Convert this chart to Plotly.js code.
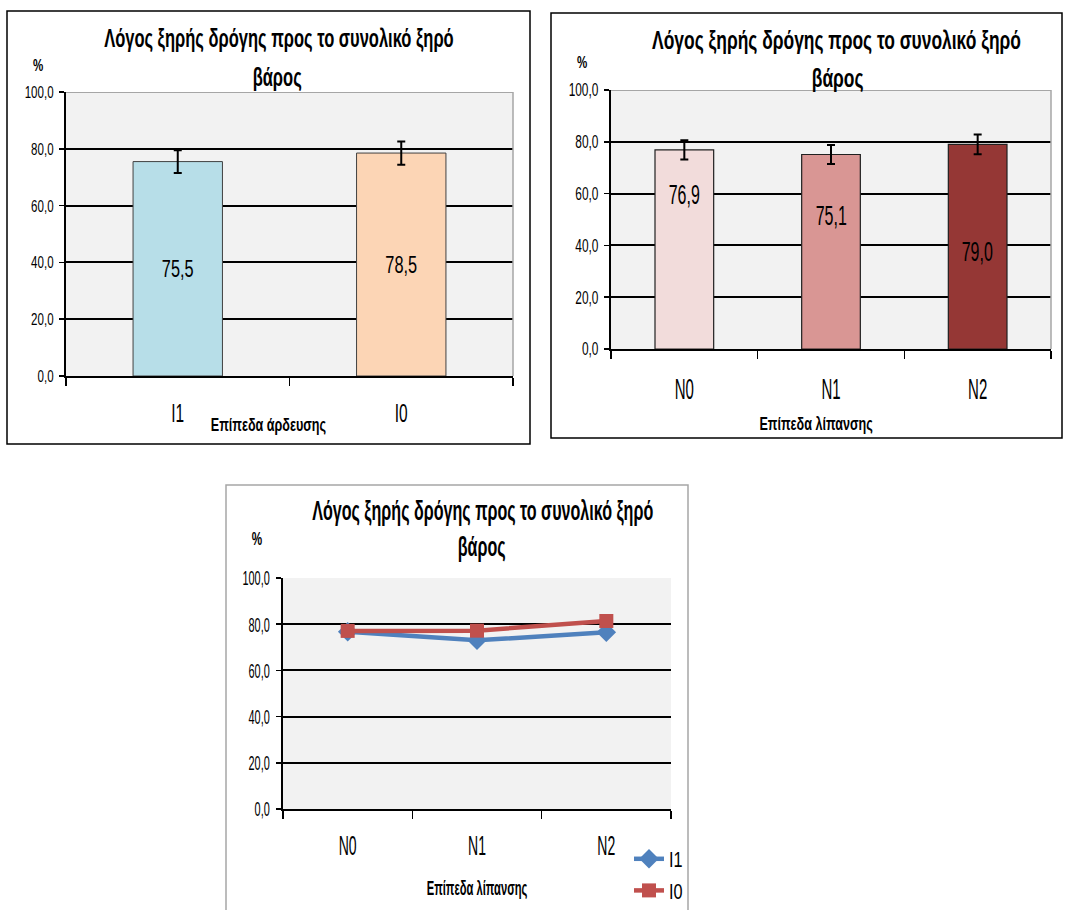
<!DOCTYPE html>
<html>
<head>
<meta charset="utf-8">
<script src="https://cdn.plot.ly/plotly-3.0.1.min.js"></script>
<style>html,body{margin:0;padding:0;background:#fff;}#chart{width:1067px;height:910px;}</style>
</head>
<body>
<div id="chart"></div>
<script>
// ---- data ----
const irrCats = ['I1', 'I0'];
const irrMeans = [75.5, 78.5];
const irrErr = [4.0, 4.1];

const fertCats = ['N0', 'N1', 'N2'];
const fertMeans = [76.9, 75.1, 79.0];
const fertErr = [3.7, 3.7, 3.8];

const lineCats = ['N0', 'N1', 'N2'];
const lineI1 = [76.7, 73.0, 76.5];
const lineI0 = [77.1, 77.2, 81.4];

const titleLine1 = 'Λόγος ξηρής δρόγης προς το συνολικό ξηρό';
const titleLine2 = 'βάρος';
const irrAxisTitle = 'Επίπεδα άρδευσης';
const fertAxisTitle = 'Επίπεδα λίπανσης';
const seriesNames = ['I1', 'I0'];

// ---- styling ----
const W = 1067, H = 910;
const px = x => x / W;
const py = y => 1 - y / H;
const FONT = "'Liberation Sans', Arial, sans-serif";
const fmt = v => v.toFixed(1).replace('.', ',');

const irrColors = ['#b7dee8', '#fcd5b5'];
const fertColors = ['#f2dcdb', '#d99694', '#953735'];
const fertLabelY = [59.5, 51.7, 37.5];

const traces = [
  {
    type: 'bar', x: irrCats, y: irrMeans, xaxis: 'x', yaxis: 'y', width: 0.4,
    marker: {color: irrColors, line: {color: '#404040', width: 1}},
    error_y: {type: 'data', array: irrErr, visible: true, color: '#000', thickness: 2, width: 4},
    text: irrMeans.map(fmt), textposition: 'inside', insidetextanchor: 'middle', textangle: 0,
    textfont: {family: FONT, size: 24, color: '#000'},
    showlegend: false, hoverinfo: 'none'
  },
  {
    type: 'bar', x: fertCats, y: fertMeans, xaxis: 'x2', yaxis: 'y2', width: 0.4,
    marker: {color: fertColors, line: {color: '#202020', width: 1.2}},
    error_y: {type: 'data', array: fertErr, visible: true, color: '#000', thickness: 2, width: 4},
    showlegend: false, hoverinfo: 'none'
  },
  {
    type: 'scatter', mode: 'lines+markers', name: seriesNames[0], x: lineCats, y: lineI1,
    xaxis: 'x3', yaxis: 'y3', legendgroup: 'a',
    line: {color: '#4f81bd', width: 4.5}, marker: {symbol: 'diamond', size: 15, color: '#4f81bd'},
    hoverinfo: 'none'
  },
  {
    type: 'scatter', mode: 'lines+markers', name: seriesNames[1], x: lineCats, y: lineI0,
    xaxis: 'x3', yaxis: 'y3', legendgroup: 'b',
    line: {color: '#c0504d', width: 4.5}, marker: {symbol: 'square', size: 14, color: '#c0504d'},
    hoverinfo: 'none'
  }
];

function yAx(dom, anchor, fs) {
  return {
    domain: dom, anchor: anchor, range: [0, 100], dtick: 20, tick0: 0, tickformat: '.1f',
    ticks: 'outside', ticklen: 5, tickcolor: '#000', tickwidth: 1.5,
    showline: true, linecolor: '#000', linewidth: 2,
    showgrid: true, gridcolor: '#000', gridwidth: 2, zeroline: false,
    tickfont: {family: FONT, size: fs, color: '#000'}, ticklabelstandoff: 2, fixedrange: true
  };
}
function xAx(dom, anchor, n, fs, standoff) {
  return {
    domain: dom, anchor: anchor, type: 'category', range: [-0.5, n - 0.5],
    tickson: 'boundaries', ticks: 'outside', ticklen: 8, tickcolor: '#000', tickwidth: 1.5,
    showline: true, linecolor: '#000', linewidth: 2, showgrid: false, zeroline: false,
    tickfont: {family: FONT, size: fs, color: '#000'}, ticklabelstandoff: standoff, fixedrange: true
  };
}

const shapes = [
  {type: 'rect', xref: 'paper', yref: 'paper', x0: px(7), x1: px(530), y0: py(444), y1: py(11), line: {color: '#000', width: 1.5}},
  {type: 'rect', xref: 'paper', yref: 'paper', x0: px(551), x1: px(1062), y0: py(438), y1: py(13), line: {color: '#000', width: 1.5}},
  {type: 'rect', xref: 'paper', yref: 'paper', x0: px(226), x1: px(688), y0: py(920), y1: py(485), line: {color: '#a6a6a6', width: 1.5}},
  {type: 'line', xref: 'x domain', yref: 'y', x0: 0, x1: 1, y0: 100, y1: 100, line: {color: '#a6a6a6', width: 2}},
  {type: 'line', xref: 'x domain', yref: 'y', x0: 1, x1: 1, y0: 0, y1: 100, line: {color: '#a6a6a6', width: 1.5}},
  {type: 'line', xref: 'x2 domain', yref: 'y2', x0: 0, x1: 1, y0: 100, y1: 100, line: {color: '#a6a6a6', width: 2}},
  {type: 'line', xref: 'x2 domain', yref: 'y2', x0: 1, x1: 1, y0: 0, y1: 100, line: {color: '#a6a6a6', width: 1.5}}
];

const annotations = [];
const annSx = [];
function ann(text, x, y, size, bold, sx) {
  annotations.push({xref: 'paper', yref: 'paper', x: px(x), y: py(y), xanchor: 'center', yanchor: 'middle',
    text: bold ? '<b>' + text + '</b>' : text, showarrow: false,
    font: {family: FONT, size: size, color: '#000'}});
  annSx.push(sx);
}

ann(titleLine1, 279, 39, 25, true, 0.66);
ann(titleLine2, 277, 77, 25, true, 0.66);
ann('%', 38, 66, 16, true, 0.72);
ann(irrAxisTitle, 268, 425, 18, true, 0.7);

ann(titleLine1, 836, 40, 26, true, 0.67);
ann(titleLine2, 837, 78, 26, true, 0.67);
ann('%', 582, 63, 16, true, 0.72);
ann(fertAxisTitle, 816, 424, 18, true, 0.7);

ann(titleLine1, 482, 510, 28, true, 0.575);
ann(titleLine2, 481, 546, 28, true, 0.575);
ann('%', 257, 539, 18, true, 0.65);
ann(fertAxisTitle, 477, 888, 20, true, 0.56);

fertMeans.forEach((v, i) => {
  annotations.push({xref: 'x2', yref: 'y2', x: fertCats[i], y: fertLabelY[i], text: fmt(v), showarrow: false,
    xanchor: 'center', yanchor: 'middle', font: {family: FONT, size: 28, color: '#000'}});
  annSx.push(0.57);
});

const layout = {
  width: W, height: H, margin: {l: 0, r: 0, t: 0, b: 0, autoexpand: false},
  paper_bgcolor: '#fff', plot_bgcolor: '#f2f2f2', separators: ',.',
  font: {family: FONT, color: '#000'},
  xaxis: xAx([px(66), px(513)], 'y', irrCats.length, 25, 14),
  yaxis: yAx([py(376), py(92)], 'x', 17),
  xaxis2: xAx([px(611), px(1051)], 'y2', fertCats.length, 30, 12),
  yaxis2: yAx([py(349), py(90)], 'x2', 18),
  xaxis3: xAx([px(283), px(671)], 'y3', lineCats.length, 27, 12),
  yaxis3: yAx([py(809), py(578)], 'x3', 21),
  showlegend: true,
  legend: {x: px(629), y: py(838), xanchor: 'left', yanchor: 'top', bgcolor: 'rgba(0,0,0,0)',
    font: {family: FONT, size: 22, color: '#000'}, traceorder: 'grouped', tracegroupgap: 0,
    itemclick: false, itemdoubleclick: false},
  shapes: shapes,
  annotations: annotations
};

// horizontal condensing of text (the reference uses a tall, narrow face)
function squash(el, sx) {
  const x = parseFloat(el.getAttribute('x')) || 0;
  const t = el.getAttribute('transform') || '';
  el.setAttribute('transform', t + ' translate(' + x + ',0) scale(' + sx + ',1) translate(' + (-x) + ',0)');
}
const tickSx = {xtick: 0.62, ytick: 0.68, x2tick: 0.5, y2tick: 0.66, x3tick: 0.52, y3tick: 0.52};

Plotly.newPlot('chart', traces, layout, {staticPlot: true, displayModeBar: false}).then(gd => {
  gd.querySelectorAll('g.annotation').forEach(g => {
    const i = +g.getAttribute('data-index');
    const t = g.querySelector('text');
    if (t && annSx[i]) squash(t, annSx[i]);
  });
  Object.keys(tickSx).forEach(cls => {
    gd.querySelectorAll('g.' + cls + ' text').forEach(t => squash(t, tickSx[cls]));
  });
  gd.querySelectorAll('text.bartext').forEach(t => squash(t, 0.68));
  gd.querySelectorAll('.legend text.legendtext').forEach(t => squash(t, 0.74));
});
</script>
</body>
</html>
